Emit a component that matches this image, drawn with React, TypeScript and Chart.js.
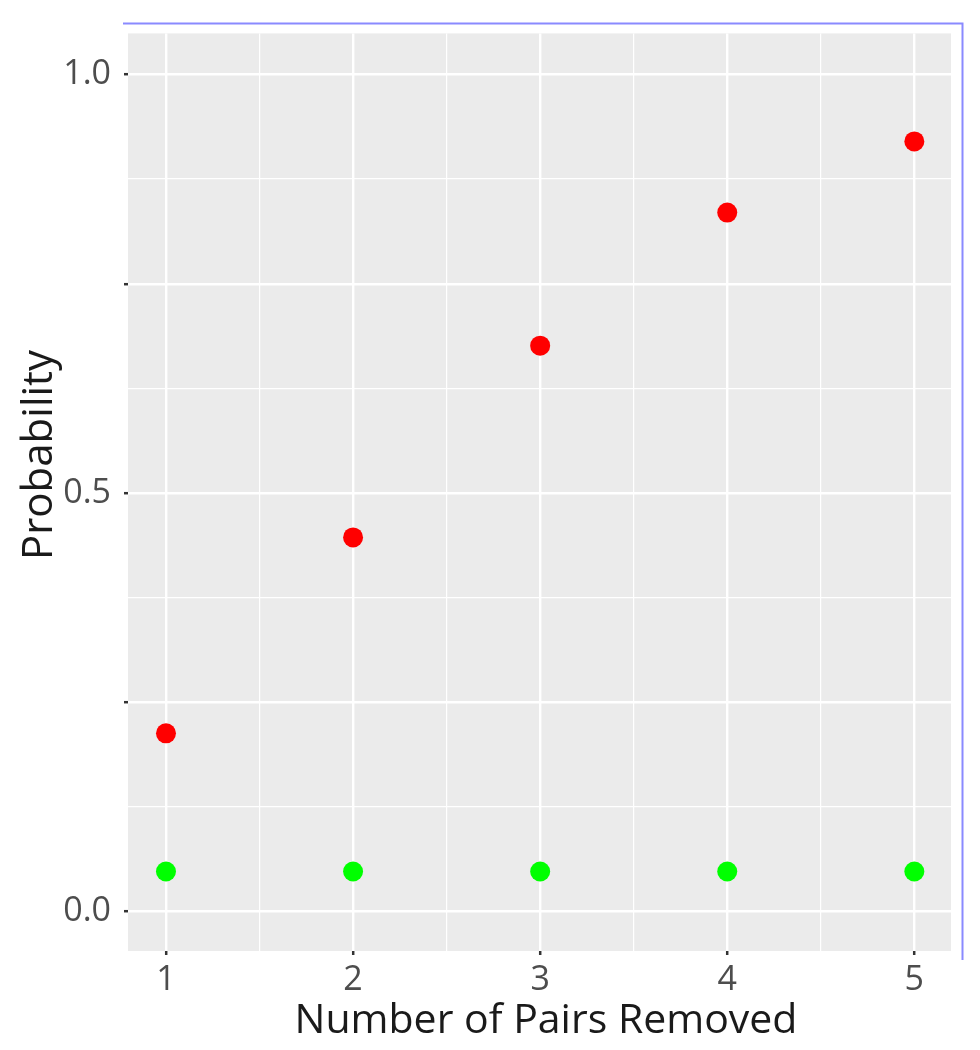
import React, { useEffect, useRef } from "react";
import { Chart, registerables } from "chart.js";

Chart.register(...registerables);

const pairsRemoved = [1, 2, 3, 4, 5];
const redProbability = [0.213, 0.447, 0.676, 0.835, 0.92];
const greenProbability = [0.048, 0.048, 0.048, 0.048, 0.048];

const xTickValues = [1, 1.5, 2, 2.5, 3, 3.5, 4, 4.5, 5];
const xTickLabels = ["1", "", "2", "", "3", "", "4", "", "5"];
const yTickValues = [0, 0.125, 0.25, 0.375, 0.5, 0.625, 0.75, 0.875, 1];
const yTickLabels = ["0.0", "", "", "", "0.5", "", "", "", "1.0"];

const xTitle = "Number of Pairs Removed";
const yTitle = "Probability";

const FONT = "'Open Sans', 'Noto Sans', sans-serif";

const isMajorX = (v: number) => Math.abs(v - Math.round(v)) < 1e-6;
const isMajorY = (v: number) => Math.abs(v * 4 - Math.round(v * 4)) < 1e-6;

const panelPlugin = {
  id: "panel",
  beforeDraw(chart: any) {
    const { ctx, chartArea } = chart;
    ctx.save();
    ctx.fillStyle = "#EBEBEB";
    ctx.fillRect(chartArea.left, chartArea.top, chartArea.right - chartArea.left, chartArea.bottom - chartArea.top);
    ctx.restore();
  },
  afterDraw(chart: any) {
    const { ctx } = chart;
    ctx.save();
    // axis titles
    ctx.fillStyle = "#1A1A1A";
    ctx.font = `41px ${FONT}`;
    ctx.textAlign = "center";
    ctx.textBaseline = "alphabetic";
    ctx.fillText(xTitle, 546, 1033);
    ctx.save();
    ctx.translate(52, 455);
    ctx.rotate(-Math.PI / 2);
    ctx.font = `42px ${FONT}`;
    ctx.fillText(yTitle, 0, 0);
    ctx.restore();
    // selection outline
    ctx.strokeStyle = "#8A8AFF";
    ctx.lineWidth = 2;
    ctx.beginPath();
    ctx.moveTo(123, 23.5);
    ctx.lineTo(962.5, 23.5);
    ctx.lineTo(962.5, 960);
    ctx.stroke();
    ctx.restore();
  },
};

export default function App() {
  const canvasRef = useRef<HTMLCanvasElement | null>(null);

  useEffect(() => {
    if (!canvasRef.current) return;
    const chart = new Chart(canvasRef.current, {
      type: "scatter",
      data: {
        datasets: [
          {
            label: "red",
            data: pairsRemoved.map((x, i) => ({ x, y: redProbability[i] })),
            backgroundColor: "#FF0000",
            borderWidth: 0,
            pointRadius: 10,
          },
          {
            label: "green",
            data: pairsRemoved.map((x, i) => ({ x, y: greenProbability[i] })),
            backgroundColor: "#00FF00",
            borderWidth: 0,
            pointRadius: 10,
          },
        ],
      },
      options: {
        responsive: false,
        animation: false,
        layout: { padding: { top: 32, right: 29, bottom: 0, left: 0 } },
        plugins: { legend: { display: false }, tooltip: { enabled: false } },
        scales: {
          x: {
            type: "linear",
            min: 0.797,
            max: 5.196,
            border: { display: false },
            afterBuildTicks: (scale: any) => {
              scale.ticks = xTickValues.map((v) => ({ value: v }));
            },
            afterFit: (scale: any) => {
              scale.height = 99;
            },
            grid: {
              color: "#FFFFFF",
              lineWidth: (c: any) => (isMajorX(c.tick.value) ? 2.4 : 1.2),
              drawTicks: true,
              tickLength: 4,
              tickWidth: 2.5,
              tickColor: (c: any) => (isMajorX(c.tick.value) ? "#333333" : "rgba(0,0,0,0)"),
            },
            ticks: {
              autoSkip: false,
              maxRotation: 0,
              padding: 5,
              color: "#4D4D4D",
              font: { family: FONT, size: 34 },
              callback: (_v: any, i: number) => xTickLabels[i],
            },
            title: { display: false },
          },
          y: {
            type: "linear",
            min: -0.047,
            max: 1.049,
            border: { display: false },
            afterBuildTicks: (scale: any) => {
              scale.ticks = yTickValues.map((v) => ({ value: v }));
            },
            afterFit: (scale: any) => {
              scale.width = 128;
            },
            grid: {
              color: "#FFFFFF",
              lineWidth: (c: any) => (isMajorY(c.tick.value) ? 2.4 : 1.2),
              drawTicks: true,
              tickLength: 4,
              tickWidth: 2.5,
              tickColor: (c: any) => (isMajorY(c.tick.value) ? "#333333" : "rgba(0,0,0,0)"),
            },
            ticks: {
              autoSkip: false,
              padding: 13,
              color: "#4D4D4D",
              font: { family: FONT, size: 34 },
              callback: (_v: any, i: number) => yTickLabels[i],
            },
            title: { display: false },
          },
        },
      },
      plugins: [panelPlugin],
    });
    return () => chart.destroy();
  }, []);

  return (
    <div style={{ position: "absolute", left: 0, top: 0, width: 980, height: 1050 }}>
      <canvas ref={canvasRef} width={980} height={1050} />
    </div>
  );
}
